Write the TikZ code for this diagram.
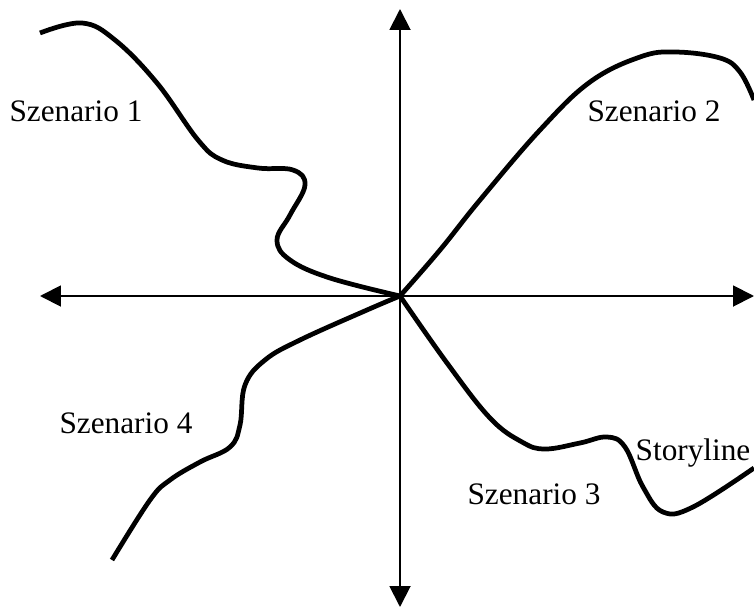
\documentclass[tikz,border=0pt]{standalone}
\usepackage{fontspec}
\setmainfont{Liberation Serif}
\usetikzlibrary{arrows.meta}
\begin{document}
\begin{tikzpicture}[x=0.02cm, y=-0.02cm,
		axis/.style={{Triangle[length=4.2mm,width=4.2mm]}-{Triangle[length=4.2mm,width=4.2mm]}, line width=1.1pt},
		story/.style={line width=2.7pt, line join=round},
		every node/.style={font=\fontsize{17.8}{20}\selectfont, inner sep=0pt}]
		\useasboundingbox (0,0) rectangle (754,608);
		\coordinate (O) at (400,296);
		\coordinate (w) at (40,296);
		\coordinate (e) at (754,296);
		\coordinate (n) at (400,9);
		\coordinate (s) at (400,607);
		\draw[axis] (w) -- (e);
		\draw[axis] (n) -- (s);
		% Szenario 1
		\draw[story] plot[smooth, tension=0.65] coordinates {(40,33) (82,23) (115,40) (157,83) (198,140) (222,160) (258,168) (293,170) (305,185) (290,215) (277,240) (290,260) (330,278) (O)};
		% Szenario 2
		\draw[story] plot[smooth, tension=0.65] coordinates {(O) (440,250) (480,200) (540,130) (590,82) (640,57) (675,52) (720,58) (740,72) (754,100)};
		% Szenario 3
		\draw[story] plot[smooth, tension=0.65] coordinates {(O) (447,363) (490,418) (522,442) (545,449) (580,443) (607,437) (625,447) (643,487) (663,512) (693,507) (754,468)};
		% Szenario 4
		\draw[story] plot[smooth, tension=0.65] coordinates {(O) (367,310) (300,340) (265,360) (245,385) (240,425) (230,447) (200,462) (170,480) (150,500) (112,560)};
		\node (s1) at (76,111) {Szenario 1};
		\node (s2) at (654,111) {Szenario 2};
		\node (s3) at (534,494) {Szenario 3};
		\node (s4) at (126,423) {Szenario 4};
		\node (sl) at (693,453) {Storyline};
	\end{tikzpicture}
\end{document}
